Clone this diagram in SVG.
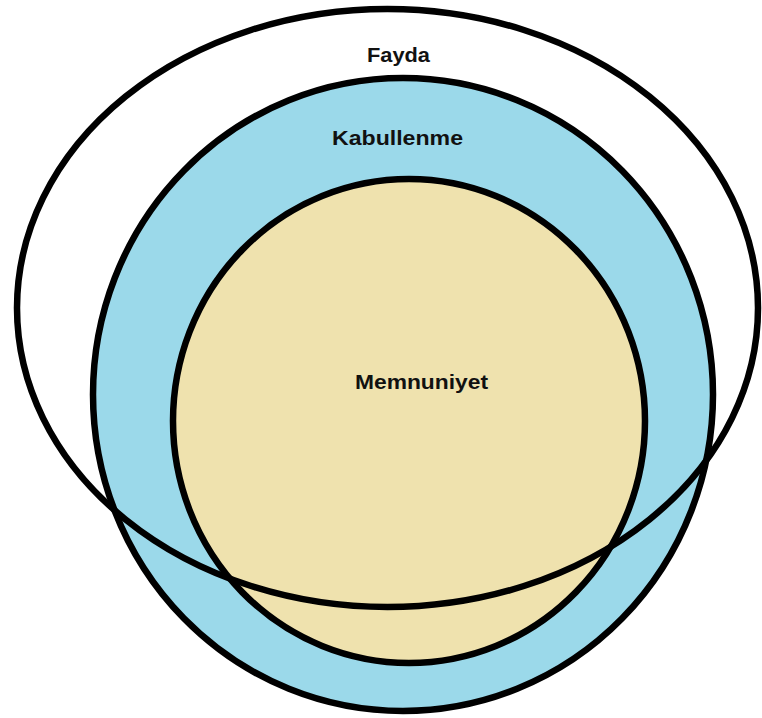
<svg xmlns="http://www.w3.org/2000/svg" width="762" height="718" viewBox="0 0 762 718">
<style>
.sh{stroke:#000;stroke-width:6.5}
.lb{font-family:"Liberation Sans",Arial,sans-serif;font-weight:bold;font-size:21px;fill:#111;text-anchor:middle}
</style>
<rect width="762" height="718" fill="#fff"/>
<g id="kabullenme">
<ellipse class="sh" cx="403" cy="394.5" rx="310" ry="316.5" fill="#9BD9EA"/>
<text class="lb" x="397.5" y="145" textLength="131" lengthAdjust="spacingAndGlyphs">Kabullenme</text>
</g>
<g id="memnuniyet">
<ellipse class="sh" cx="409" cy="421" rx="236" ry="242" fill="#EFE2AE"/>
<text class="lb" x="421.5" y="389" textLength="133" lengthAdjust="spacingAndGlyphs">Memnuniyet</text>
</g>
<g id="fayda">
<ellipse class="sh" cx="387.5" cy="308" rx="370.5" ry="299" fill="none"/>
<text class="lb" x="398.5" y="62" textLength="63" lengthAdjust="spacingAndGlyphs">Fayda</text>
</g>
</svg>
